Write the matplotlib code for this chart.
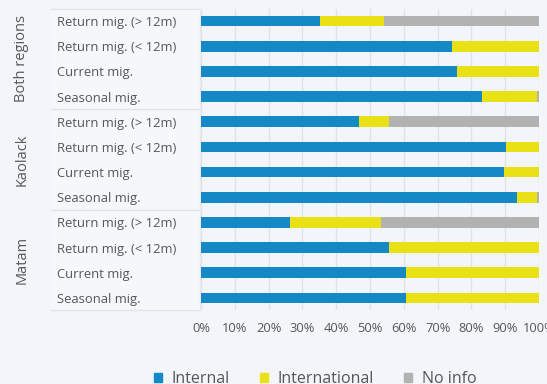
import numpy as np
import matplotlib
matplotlib.use('Agg')
import matplotlib.pyplot as plt
from matplotlib.patches import Patch, Rectangle

plt.rcParams['font.family'] = ['Open Sans', 'DejaVu Sans']

groups = ['Both regions', 'Kaolack', 'Matam']
types = ['Return mig. (> 12m)', 'Return mig. (< 12m)', 'Current mig.', 'Seasonal mig.']
labels = types * 3

internal = np.array([35.2, 74.3, 75.8, 83.1, 46.8, 90.3, 89.6, 93.6, 26.3, 55.7, 60.7, 60.7])
international = np.array([18.9, 25.7, 24.2, 16.4, 8.9, 9.7, 10.4, 5.9, 27.0, 44.3, 39.3, 39.3])
no_info = np.array([45.9, 0.0, 0.0, 0.5, 44.3, 0.0, 0.0, 0.5, 46.7, 0.0, 0.0, 0.0])

xticks = np.arange(0, 101, 10)
xticklabels = ['{}%'.format(v) for v in xticks]

bg = '#f2f5fa'
txt = '#575757'
c_int, c_intl, c_na = '#1589c6', '#e9e016', '#b2b2b2'

fig = plt.figure(figsize=(5.47, 3.84), dpi=100, facecolor=bg)
ax = fig.add_axes([201/547, 1-310/384, 338/547, 301/384])
ax.set_facecolor(bg)

y = np.arange(len(labels))
h = 0.42
ax.barh(y, internal, height=h, color=c_int, zorder=3)
ax.barh(y, international, left=internal, height=h, color=c_intl, zorder=3)
ax.barh(y, no_info, left=internal+international, height=h, color=c_na, zorder=3)

ax.set_xlim(0, 100)
ax.set_ylim(11.48, -0.48)
ax.set_xticks(xticks)
ax.set_xticklabels(xticklabels, fontsize=9.3, color=txt)
ax.set_yticks(y)
ax.set_yticklabels(labels, fontsize=9.4, color=txt, ha='left')
ax.tick_params(axis='y', length=0, pad=104)
ax.tick_params(axis='x', length=0, pad=9)
ax.grid(axis='x', color='#e2e2e6', linewidth=1, zorder=0)
for s in ax.spines.values():
    s.set_visible(False)

# label panel on the left
x0 = (51-201)/338
panel = Rectangle((x0, 0), -x0, 1, transform=ax.transAxes, facecolor='#f5f7fb',
                  edgecolor='none', clip_on=False, zorder=0)
ax.add_patch(panel)
tr = ax.get_yaxis_transform()
for yy in [-0.48, 3.5, 7.5, 11.48]:
    ax.plot([x0, -0.003], [yy, yy], color='#e2e3e7', lw=1, transform=tr, clip_on=False)
ax.plot([-0.003, -0.003], [-0.48, 11.48], color='#e8eaee', lw=1, transform=tr, clip_on=False)

for i, g in enumerate(groups):
    ax.text((22-201)/338, 4*i+1.5, g, transform=tr, rotation=90, ha='center', va='center',
            fontsize=10.5, color=txt)

handles = [Patch(color=c_int), Patch(color=c_intl), Patch(color=c_na)]
fig.legend(handles, ['Internal', 'International', 'No info'], loc='center left',
           bbox_to_anchor=(154/547, 1-379/384), ncol=3, frameon=False, fontsize=11.5,
           labelcolor=txt, handlelength=0.5, handleheight=0.5, handletextpad=0.6,
           columnspacing=1.9, borderpad=0, borderaxespad=0)

fig.savefig('out.png', dpi=100, facecolor=bg)
